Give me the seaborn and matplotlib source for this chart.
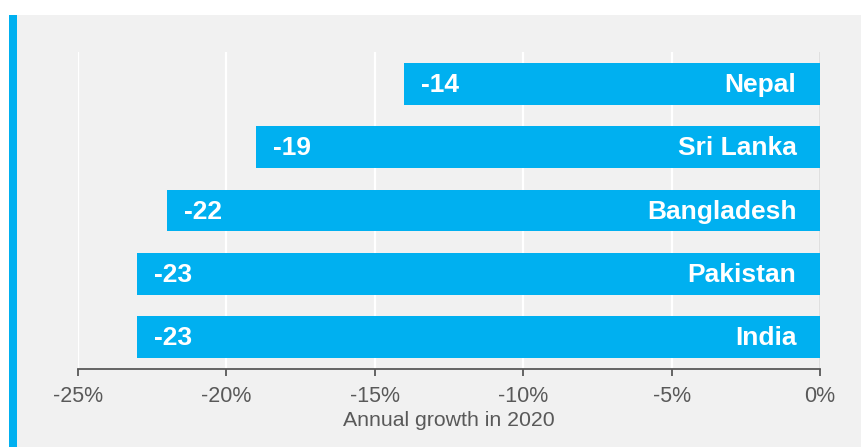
import matplotlib
matplotlib.use("Agg")
import matplotlib.pyplot as plt
from matplotlib.patches import Rectangle
from matplotlib.ticker import FuncFormatter
import seaborn as sns
import pandas as pd

countries = ["Nepal", "Sri Lanka", "Bangladesh", "Pakistan", "India"]
growth = [-14, -19, -22, -23, -23]
xticks = [-25, -20, -15, -10, -5, 0]
xlabel = "Annual growth in 2020"

BLUE = "#00B0F0"
BG = "#F1F1F1"

sns.set_theme(style="white")
plt.rcParams["font.family"] = ["Liberation Sans", "DejaVu Sans"]

W, H = 862, 447
fig = plt.figure(figsize=(W / 100, H / 100), dpi=100, facecolor="white")
fig.patches.append(Rectangle((17 / W, 0), 1 - 17 / W, (H - 15) / H,
                             transform=fig.transFigure, facecolor=BG,
                             edgecolor="none", zorder=-2))
fig.patches.append(Rectangle((9 / W, 0), 8 / W, (H - 15) / H,
                             transform=fig.transFigure, facecolor=BLUE,
                             edgecolor="none", zorder=-2))

ax = fig.add_axes([78 / W, 1 - 369 / H, (820 - 78) / W, (369 - 52) / H])
ax.set_facecolor("none")

df = pd.DataFrame({"country": countries, "growth": growth})
sns.barplot(data=df, x="growth", y="country", orient="h", color=BLUE,
            saturation=1, width=0.66, ax=ax, zorder=3, linewidth=0,
            edgecolor="none")

ax.set_xlim(-25, 0)
ax.set_ylim(4.5, -0.5)
ax.set_xticks(xticks)
ax.xaxis.set_major_formatter(FuncFormatter(lambda v, p: f"{int(round(v))}%"))
ax.grid(axis="x", color="white", linewidth=1.6, zorder=0)
ax.set_axisbelow(True)
ax.axvline(0, color="#D9D9D9", linewidth=1.2, zorder=2)

for s in ["top", "right", "left"]:
    ax.spines[s].set_visible(False)
ax.spines["bottom"].set_color("#595959")
ax.spines["bottom"].set_linewidth(1.3)
ax.tick_params(axis="x", bottom=True, direction="out", length=5, width=1.3,
               color="#595959", labelcolor="#595959", labelsize=15.5, pad=7)
ax.tick_params(axis="y", left=False, labelleft=False)
ax.set_ylabel("")
ax.set_xlabel(xlabel, color="#595959", fontsize=15.3, labelpad=3)

for i, (c, v) in enumerate(zip(countries, growth)):
    ax.annotate(f"{v}", xy=(v, i), xytext=(12, -0.8), textcoords="offset points",
                ha="left", va="center", color="white", fontsize=19,
                fontweight="bold", zorder=5)
    ax.annotate(c, xy=(0, i), xytext=(-17, -0.8), textcoords="offset points",
                ha="right", va="center", color="white", fontsize=19,
                fontweight="bold", zorder=5)

fig.savefig("out.png", dpi=100, facecolor=fig.get_facecolor())
